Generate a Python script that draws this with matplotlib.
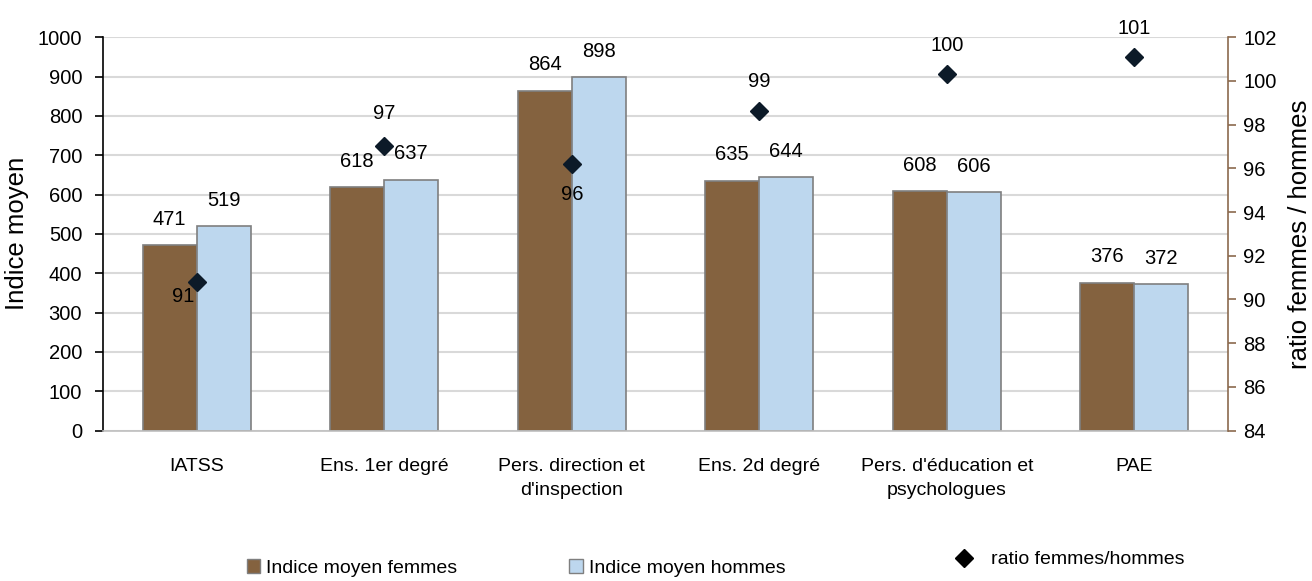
import numpy as np
import matplotlib.pyplot as plt
from matplotlib.patches import Patch
from matplotlib.lines import Line2D

plt.rcParams['font.family'] = ['Liberation Sans', 'DejaVu Sans']

categories = ["IATSS", "Ens. 1er degré", "Pers. direction et\nd'inspection",
              "Ens. 2d degré", "Pers. d'éducation et\npsychologues", "PAE"]
femmes = [471, 618, 864, 635, 608, 376]
hommes = [519, 637, 898, 644, 606, 372]
ratio = [90.8, 97.0, 96.2, 98.6, 100.3, 101.1]

# label offsets of the ratio values (pixels)
ratio_offsets = [(-14, -15), (0, 33), (0, -31), (0, 30), (0, 29), (0, 28)]

brown = '#84623F'
blue = '#BDD7EE'
navy = '#0C1A28'
axis_brown = '#8B6A4E'

fig = plt.figure(figsize=(13.12, 5.81), dpi=100)
ax = fig.add_axes([0.0785, 0.259, 0.8575, 0.677])

x = np.arange(len(categories))
w = 0.288
ax.bar(x - w / 2, femmes, w, color=brown, edgecolor='#7F7F7F', lw=1.2, zorder=2)
ax.bar(x + w / 2, hommes, w, color=blue, edgecolor='#7F7F7F', lw=1.2, zorder=2)

for xi, v in zip(x, femmes):
    ax.annotate(str(v), (xi - w / 2, v), xytext=(0, 26), textcoords='offset pixels',
                ha='center', va='center', fontsize=14.5)
for xi, v in zip(x, hommes):
    ax.annotate(str(v), (xi + w / 2, v), xytext=(0, 26), textcoords='offset pixels',
                ha='center', va='center', fontsize=14.5)

ax.set_xlim(-0.5, len(categories) - 0.5)
ax.set_ylim(0, 1000)
ax.set_yticks(np.arange(0, 1001, 100))
ax.yaxis.grid(True, color='#D9D9D9', lw=1.5, zorder=0)
ax.set_axisbelow(True)
ax.set_xticks(x)
ax.set_xticklabels(categories, fontsize=14, linespacing=1.5)
ax.tick_params(axis='x', length=0, pad=20)
ax.tick_params(axis='y', length=6, width=1.2, pad=9, labelsize=14.5)
ax.set_ylabel('Indice moyen', fontsize=18.5, labelpad=6)
ax.spines['top'].set_visible(False)
ax.spines['right'].set_visible(False)
ax.spines['bottom'].set_color('#BFBFBF')
ax.spines['bottom'].set_linewidth(1.2)
ax.spines['left'].set_linewidth(1.2)

ax2 = ax.twinx()
ax2.plot(x, ratio, linestyle='none', marker='D', markersize=9.5, color=navy, zorder=5)
for xi, r, off in zip(x, ratio, ratio_offsets):
    ax2.annotate(str(int(round(r))), (xi, r), xytext=off, textcoords='offset pixels',
                 ha='center', va='center', fontsize=14.5)
ax2.set_ylim(84, 102)
ax2.set_yticks(np.arange(84, 103, 2))
ax2.tick_params(axis='y', length=6, width=1.2, pad=5, labelsize=14.5, color=axis_brown)
ax2.set_ylabel('ratio femmes / hommes', fontsize=18.5, labelpad=8)
for s in ['top', 'left', 'bottom']:
    ax2.spines[s].set_visible(False)
ax2.spines['right'].set_color(axis_brown)
ax2.spines['right'].set_linewidth(1.2)

leg_kw = dict(frameon=False, fontsize=14, loc='center left', handlelength=0.7,
              handleheight=0.7, handletextpad=0.3, borderpad=0, borderaxespad=0)
fig.legend(handles=[Patch(facecolor=brown, edgecolor='#7F7F7F')],
           labels=['Indice moyen femmes'], bbox_to_anchor=(0.188, 0.022), **leg_kw)
fig.legend(handles=[Patch(facecolor=blue, edgecolor='#7F7F7F')],
           labels=['Indice moyen hommes'], bbox_to_anchor=(0.434, 0.022), **leg_kw)
leg_kw['handlelength'] = 1.2
leg_kw['handletextpad'] = 0.8
fig.legend(handles=[Line2D([], [], linestyle='none', marker='D', markersize=9.5, color='black')],
           labels=['ratio femmes/hommes'], bbox_to_anchor=(0.726, 0.037), **leg_kw)

fig.savefig('out.png', dpi=100)
